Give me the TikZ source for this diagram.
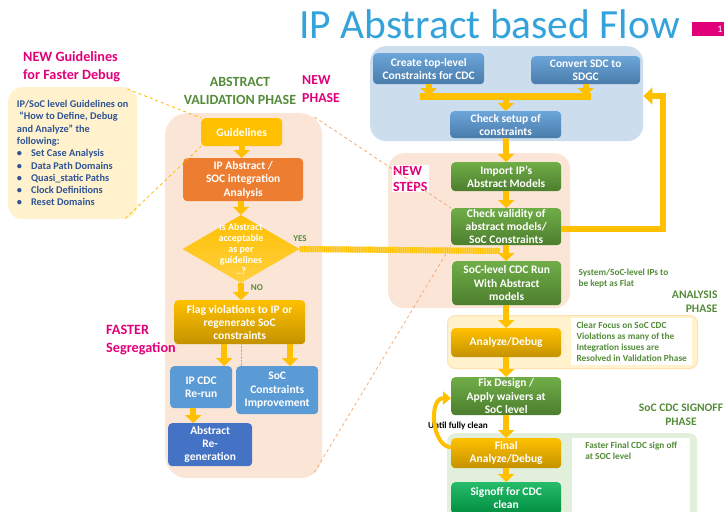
\documentclass[tikz,border=0pt]{standalone}
\usepackage{fontspec}
\setmainfont{Carlito}
\usetikzlibrary{arrows.meta,shapes.geometric}

\definecolor{gold}{RGB}{255,192,0}
\definecolor{darkgold}{RGB}{196,146,0}
\definecolor{floworange}{RGB}{237,125,49}
\definecolor{flowblue}{RGB}{91,155,213}
\definecolor{deepblue}{RGB}{68,114,196}
\definecolor{flowgreen}{RGB}{112,173,71}
\definecolor{darkgreen}{RGB}{76,126,46}
\definecolor{brightgreen}{RGB}{0,176,80}
\definecolor{phasegreen}{RGB}{84,140,58}
\definecolor{hotpink}{RGB}{226,0,122}
\definecolor{titleblue}{RGB}{52,163,220}
\definecolor{navytext}{RGB}{47,84,150}
\definecolor{pinkreg}{RGB}{251,229,214}
\definecolor{bluereg}{RGB}{204,221,238}
\definecolor{yellowreg}{RGB}{255,242,204}
\definecolor{greenreg}{RGB}{226,239,218}
\definecolor{salmon}{RGB}{244,170,120}

\tikzset{
    region/.style={anchor=north west, rounded corners=16pt, inner sep=0pt},
    stepbox/.style={anchor=north west, rounded corners=4pt, inner sep=0pt, align=center,
        text=white, font=\bfseries\fontsize{11.5}{13.2}\selectfont},
    goldbox/.style={stepbox, top color=gold, bottom color=darkgold},
    greenbox/.style={stepbox, top color=flowgreen, bottom color=darkgreen},
    bluebox/.style={stepbox, top color=flowblue!90!white, bottom color=flowblue!80!black},
    phase/.style={font=\bfseries\fontsize{14}{18}\selectfont, text=phasegreen},
    hint/.style={font=\bfseries\fontsize{14.2}{18}\selectfont, text=hotpink, align=left, anchor=north west, inner sep=0pt},
    note/.style={font=\bfseries\fontsize{9.3}{11.2}\selectfont, text=phasegreen, align=left},
    flowarrow/.style={draw=gold, line width=6pt, -{Triangle[length=8pt,width=16pt]}},
    flowline/.style={draw=gold, line width=7pt},
    zoomline/.style={dashed, line width=0.8pt},
}

\begin{document}
\begin{tikzpicture}[x=1pt,y=-1pt]
    \useasboundingbox (0,0) rectangle (724,512);

    % title and page tag
    \node[anchor=west, inner sep=0pt, text=titleblue, font=\fontsize{41.5}{44}\selectfont] (title) at (299,24) {IP Abstract based Flow};
    \node[anchor=north west, fill=hotpink, minimum width=32pt, minimum height=14pt, inner sep=0pt] (tag) at (692,22) {};
    \node[text=white, font=\fontsize{10}{11}\selectfont, inner sep=0pt] (tagnum) at (720,29) {1};

    % background regions
    \node[region, fill=bluereg, minimum width=273pt, minimum height=95pt] (topreg) at (370,46) {};
    \node[region, fill=pinkreg, minimum width=182pt, minimum height=155pt] (stepsreg) at (388,153) {};
    \node[region, fill=pinkreg, minimum width=157pt, minimum height=365pt, rounded corners=22pt] (valreg) at (165,113) {};
    \node[region, fill=yellowreg, draw=yellowreg!85!orange, line width=1pt, minimum width=250pt, minimum height=53pt, rounded corners=8pt] (anareg) at (447,315) {};
    \node[region, fill=greenreg, minimum width=250pt, minimum height=95pt, rounded corners=8pt] (signreg) at (447,433) {};

    % guideline callout
    \node[anchor=north west, fill=yellowreg, rounded corners=14pt, minimum width=129pt, minimum height=132pt,
        align=left, text=navytext, font=\bfseries\fontsize{10.3}{12.3}\selectfont, inner sep=0pt] (guidebox) at (8,87)
        {IP/SoC level Guidelines on\\
         ~“How to Define, Debug\\
         and Analyze” the\\
         following:\\
         \textbullet\hspace{9pt}Set Case Analysis\\
         \textbullet\hspace{9pt}Data Path Domains\\
         \textbullet\hspace{9pt}Quasi\_static Paths\\
         \textbullet\hspace{9pt}Clock Definitions\\
         \textbullet\hspace{9pt}Reset Domains};
    \node[hint] (newguide) at (23,51) {NEW Guidelines\\for Faster Debug};
    \node[phase, align=center] (absval) at (240,91) {ABSTRACT\\VALIDATION PHASE};
    \node[hint, font=\bfseries\fontsize{13.8}{18}\selectfont] (newphase) at (302,75) {NEW\\PHASE};
    \node[hint] (faster) at (106,325) {FASTER\\Segregation};
    \node[hint, fill=white, inner sep=1pt, font=\bfseries\fontsize{14}{16}\selectfont] (newsteps) at (392,165) {NEW\\STEPS};

    % setup of constraints
    \node[bluebox, minimum width=111pt, minimum height=31pt] (create) at (373,53) {Create top-level\\Constraints for CDC};
    \node[bluebox, minimum width=109pt, minimum height=28pt] (convert) at (531,56) {Convert SDC to\\SDGC};
    \node[bluebox, minimum width=111pt, minimum height=27pt] (setup) at (450,111) {Check setup of\\constraints};

    % validation phase
    \node[stepbox, fill=gold, minimum width=81pt, minimum height=28pt] (guide) at (201,118) {Guidelines};
    \node[stepbox, fill=floworange, minimum width=120pt, minimum height=43pt] (ipabs) at (183,158) {IP Abstract /\\SOC integration\\Analysis};
    \node[diamond, top color=gold, bottom color=gold!75!white, minimum width=117pt, minimum height=68pt, inner sep=0pt] (dia) at (241,249) {};
    \node[align=center, text=white, font=\bfseries\fontsize{10}{11}\selectfont] (diatext) at (dia.center) {Is Abstract\\acceptable\\as per\\guidelines\\..?};
    \node[goldbox, minimum width=131pt, minimum height=44pt] (flag) at (174,300) {Flag violations to IP or\\regenerate SoC\\constraints};
    \node[stepbox, fill=flowblue, minimum width=62pt, minimum height=42pt] (ipcdc) at (170,366) {IP CDC\\Re-run};
    \node[stepbox, fill=flowblue, minimum width=82pt, minimum height=48pt] (socimp) at (236,366) {SoC\\Constraints\\Improvement};
    \node[stepbox, fill=deepblue, minimum width=84pt, minimum height=43pt] (regen) at (168,423) {Abstract\\Re-\\generation};
    \node[font=\bfseries\fontsize{9}{10}\selectfont, text=phasegreen] (yes) at (300,239) {YES};
    \node[font=\bfseries\fontsize{9}{10}\selectfont, text=phasegreen] (no) at (257,288) {NO};

    % new steps and sign-off flow
    \node[greenbox, minimum width=110pt, minimum height=29pt] (import) at (451,162) {Import IP’s\\Abstract Models};
    \node[greenbox, minimum width=110pt, minimum height=37pt] (check) at (451,208) {Check validity of\\abstract models/\\SoC Constraints};
    \node[greenbox, minimum width=109pt, minimum height=44pt] (soclevel) at (452,261) {SoC-level CDC Run\\With Abstract\\models};
    \node[goldbox, minimum width=110pt, minimum height=29pt] (analyze) at (451,328) {Analyze/Debug};
    \node[greenbox, minimum width=110pt, minimum height=38pt] (fix) at (451,377) {Fix Design /\\Apply waivers at\\SoC level};
    \node[goldbox, minimum width=110pt, minimum height=30pt] (final) at (451,438) {Final\\Analyze/Debug};
    \node[stepbox, top color=brightgreen!85!white, bottom color=brightgreen!80!black, minimum width=110pt, minimum height=32pt] (signoff) at (451,482) {Signoff for CDC\\clean};

    % side notes
    \node[note, anchor=north west] (sysnote) at (575,265) {System/SoC-level IPs to\\be kept as Flat};
    \node[phase, font=\bfseries\fontsize{11.6}{14}\selectfont, align=right, anchor=north east] (anaphase) at (721,287) {ANALYSIS\\PHASE};
    \node[note, anchor=north west, fill=white, inner sep=1pt, minimum width=121pt, minimum height=47pt] (clearnote) at (571,318) {Clear Focus on SoC CDC\\Violations as many of the\\Integration issues are\\Resolved in Validation Phase};
    \node[phase, font=\bfseries\fontsize{11.5}{14}\selectfont, align=center] (signphase) at (681,415) {SoC CDC SIGNOFF\\PHASE};
    \node[note, anchor=north west, fill=white, inner xsep=8pt, inner ysep=4pt, minimum width=118pt, minimum height=80pt, text depth=62pt] (fasternote) at (572,438) {Faster Final CDC sign off\\at SOC level};
    \node[font=\bfseries\fontsize{9.2}{10}\selectfont] (until) at (458,426) {Until fully clean};

    % zoom call-outs
    \draw[zoomline, draw=gold!90!orange] (guidebox.north east) ++(-10,2) -- (guide.north west);
    \draw[zoomline, draw=gold!90!orange] (guidebox.south east) ++(-12,-1) -- (guide.south west);
    \draw[zoomline, draw=salmon] (valreg.north east) ++(-8,4) -- (check.north west);
    \draw[zoomline, draw=salmon] (valreg.south east) ++(-8,-6) -- (check.south west);

    % accepted abstract joins the main flow
    \coordinate (yesend) at (500,251);
    \draw[draw=gold!70!white, line width=6pt, postaction={draw=gold, line width=6pt, dash pattern=on 1pt off 1.2pt}] (dia.east) -- (yesend);

    % connectors, top block
    \coordinate (barl) at (420,96);
    \coordinate (barr) at (591,96);
    \coordinate (barmid) at (506,96);
    \draw[flowline] (barl) -- (barr);
    \draw[flowarrow] (create.south) -- (create.south |- barmid);
    \draw[flowarrow] (convert.south) -- (convert.south |- barmid);
    \draw[flowarrow] (barmid) -- (setup.north);
    \draw[flowarrow] (setup.south) -- (import.north);
    \draw[flowarrow] (import.south) -- (check.north);
    \draw[flowarrow] (check.south) -- (check.south |- soclevel.north);
    \draw[flowarrow] (soclevel.south -| analyze.south) -- (analyze.north);
    \draw[flowarrow] (analyze.south) -- (fix.north);
    \draw[flowarrow] (fix.south) -- (final.north);
    \draw[flowarrow] (final.south) -- (signoff.north);

    % feedback to the constraint setup
    \coordinate (loopin) at (topreg.east |- barmid);
    \draw[draw=gold, line width=6pt, -{Triangle[length=9pt,width=17pt]}]
        ([yshift=-2pt]check.east) -| (663,96) -- (loopin);

    % repeat until clean
    \draw[draw=gold, line width=4pt, -{Triangle[length=8pt,width=13pt]}]
        ([yshift=6pt]final.west) .. controls (432,447) and (428,398) .. ([yshift=-2pt]fix.west);

    % validation phase connectors
    \draw[flowarrow] (guide.south) -- (ipabs.north -| guide.south);
    \draw[flowarrow] (ipabs.south -| dia.north) -- (dia.north);
    \draw[flowarrow] (dia.south) -- (flag.north -| dia.south);
    \draw[flowarrow] (flag.south -| ipcdc.south) ++(23,0) coordinate (fa) -- (fa |- ipcdc.north);
    \draw[flowarrow] (flag.south -| 290,0) coordinate (fb) -- (fb |- socimp.north);
    \draw[flowarrow] (ipcdc.south) ++(-8,0) coordinate (fc) -- (fc |- regen.north);
    \draw[densely dotted, draw=gray!60] (flag.south -| dia.south) -- (dia.south |- socimp.north);
\end{tikzpicture}
\end{document}
